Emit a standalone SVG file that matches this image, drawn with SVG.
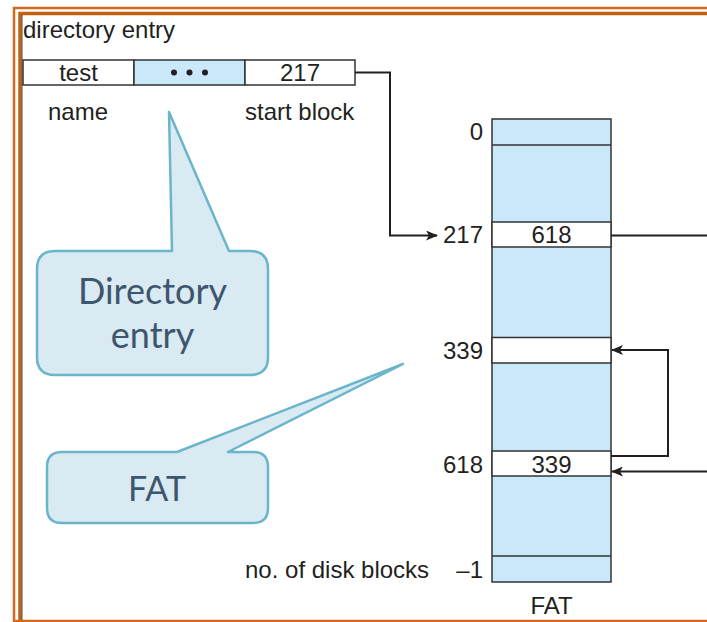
<svg xmlns="http://www.w3.org/2000/svg" width="707" height="622" viewBox="0 0 707 622">
<defs>
<style>
.t{font-family:"Liberation Sans",Arial,sans-serif;font-size:24px;fill:#231f20}
.c{font-family:Lato,"Liberation Sans",sans-serif;fill:#3d566e}
.cell{stroke:#333;stroke-width:1.5}
.blue{fill:#c9e8f9}
.wh{fill:#fff}
.ln{fill:none;stroke:#231f20;stroke-width:2}
.call{fill:#d9eaf2;stroke:#6bb5ca;stroke-width:2.5;stroke-linejoin:round}
</style>
<marker id="ah" markerWidth="12" markerHeight="10" refX="11" refY="5" orient="auto" markerUnits="userSpaceOnUse">
<path d="M0,0 L12,5 L0,10 L3,5 Z" fill="#231f20"/>
</marker>
</defs>
<rect width="707" height="622" fill="#fff"/>
<g id="frame">
<path d="M14,622 V8 H707" fill="none" stroke="#d2691e" stroke-width="2.5"/>
<path d="M20,622 V13.5 H707" fill="none" stroke="#c4610f" stroke-width="3.5"/>
<path d="M14,621 H707" stroke="#d2691e" stroke-width="2.5"/>
<line x1="22" y1="15" x2="22" y2="620" stroke="#444" stroke-width="1"/>
</g>
<g id="dir-entry">
<text class="t" x="23" y="38">directory entry</text>
<rect class="cell wh" x="23" y="60" width="111" height="25"/>
<rect class="cell blue" x="134" y="60" width="111" height="25"/>
<rect class="cell wh" x="245" y="60" width="110" height="25"/>
<text class="t" x="78.5" y="81" text-anchor="middle">test</text>
<circle cx="174" cy="72.5" r="3" fill="#231f20"/>
<circle cx="189.5" cy="72.5" r="3" fill="#231f20"/>
<circle cx="205" cy="72.5" r="3" fill="#231f20"/>
<text class="t" x="300" y="81" text-anchor="middle">217</text>
<text class="t" x="48" y="119.5">name</text>
<text class="t" x="245" y="119.5">start block</text>
</g>
<g id="fat">
<rect class="cell blue" x="492" y="119" width="119" height="463"/>
<line class="cell" x1="492" y1="145" x2="611" y2="145"/>
<rect class="cell wh" x="492" y="222" width="119" height="25"/>
<rect class="cell wh" x="492" y="337.5" width="119" height="25.5"/>
<rect class="cell wh" x="492" y="451" width="119" height="25"/>
<line class="cell" x1="492" y1="556" x2="611" y2="556"/>
<text class="t" x="551.5" y="243" text-anchor="middle">618</text>
<text class="t" x="551.5" y="473" text-anchor="middle">339</text>
<text class="t" x="483" y="140" text-anchor="end">0</text>
<text class="t" x="483" y="243" text-anchor="end">217</text>
<text class="t" x="483" y="359" text-anchor="end">339</text>
<text class="t" x="483" y="473" text-anchor="end">618</text>
<text class="t" x="483" y="578" text-anchor="end">–1</text>
<text class="t" x="245" y="578">no. of disk blocks</text>
<text class="t" x="551.5" y="614" text-anchor="middle">FAT</text>
</g>
<g id="connectors">
<path class="ln" d="M355,72.5 H390 V235.5 H437" marker-end="url(#ah)"/>
<path class="ln" d="M611,235.5 H707"/>
<path class="ln" d="M611,456 H668 V350 H612" marker-end="url(#ah)"/>
<path class="ln" d="M707,471.5 H612" marker-end="url(#ah)"/>
</g>
<g id="callout-dir">
<path class="call" d="M55,251 H172 L169,112 L229,251 H250 Q268,251 268,269 V357 Q268,375 250,375 H55 Q37,375 37,357 V269 Q37,251 55,251 Z"/>
<text class="c" x="152.5" y="304" text-anchor="middle" font-size="36">Directory</text>
<text class="c" x="152.5" y="348" text-anchor="middle" font-size="36">entry</text>
</g>
<g id="callout-fat">
<path class="call" d="M62,452 H177 L403,364 L228,452 H253 Q268,452 268,467 V508 Q268,523 253,523 H62 Q47,523 47,508 V467 Q47,452 62,452 Z"/>
<text class="c" x="157" y="501" text-anchor="middle" font-size="34">FAT</text>
</g>
</svg>
